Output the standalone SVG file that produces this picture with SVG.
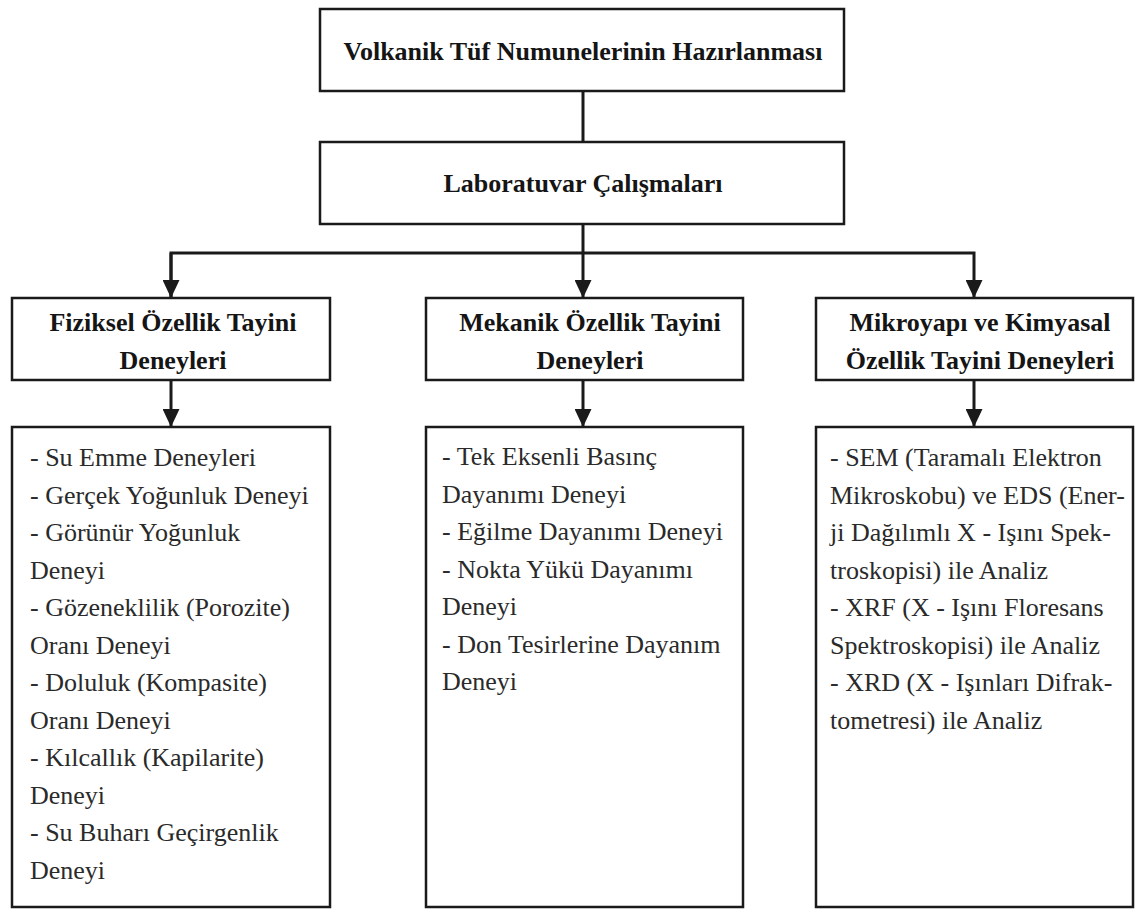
<svg xmlns="http://www.w3.org/2000/svg" width="1136" height="913" viewBox="0 0 1136 913">
  <style>
    .box { fill: #ffffff; stroke: #1a1a1a; stroke-width: 2.5; }
    .title { font-family: "Liberation Serif", "Times New Roman", serif; font-weight: bold; font-size: 26px; fill: #151515; text-anchor: middle; }
    .body { font-family: "Liberation Serif", "Times New Roman", serif; font-size: 26px; fill: #2a2a2a; }
    .conn { fill: none; stroke: #1a1a1a; stroke-width: 3; stroke-linecap: butt; stroke-linejoin: miter; }
  </style>
  <defs>
    <marker id="arrow" markerUnits="userSpaceOnUse" markerWidth="18" markerHeight="17" refX="18" refY="8.5" orient="auto">
      <path d="M0,0 L18,8.5 L0,17 Z" fill="#1a1a1a"/>
    </marker>
  </defs>
  <rect width="1136" height="913" fill="#ffffff"/>

  <g id="connectors">
    <path class="conn" d="M583,91 L583,142"/>
    <path class="conn" d="M583,224 L583,253"/>
    <path class="conn" d="M171,298 L171,253 L974,253 L974,298" marker-end="url(#arrow)"/>
    <path class="conn" d="M171,253 L171,298" marker-end="url(#arrow)"/>
    <path class="conn" d="M583,253 L583,298" marker-end="url(#arrow)"/>
    <path class="conn" d="M171,380 L171,427" marker-end="url(#arrow)"/>
    <path class="conn" d="M583,380 L583,427" marker-end="url(#arrow)"/>
    <path class="conn" d="M974,380 L974,427" marker-end="url(#arrow)"/>
  </g>

  <g id="node-prep">
    <rect class="box" x="320" y="9" width="524" height="82"/>
    <text class="title" x="583" y="60">Volkanik Tüf Numunelerinin Hazırlanması</text>
  </g>

  <g id="node-lab">
    <rect class="box" x="320" y="142" width="524" height="82"/>
    <text class="title" x="583" y="192">Laboratuvar Çalışmaları</text>
  </g>

  <g id="node-physical-head">
    <rect class="box" x="12" y="298" width="318" height="82"/>
    <text class="title" x="173" y="331">Fiziksel Özellik Tayini</text>
    <text class="title" x="173" y="369">Deneyleri</text>
  </g>

  <g id="node-mechanical-head">
    <rect class="box" x="426" y="298" width="317" height="82"/>
    <text class="title" x="590" y="331">Mekanik Özellik Tayini</text>
    <text class="title" x="590" y="369">Deneyleri</text>
  </g>

  <g id="node-micro-head">
    <rect class="box" x="816" y="298" width="317" height="82"/>
    <text class="title" x="980" y="331">Mikroyapı ve Kimyasal</text>
    <text class="title" x="980" y="369">Özellik Tayini Deneyleri</text>
  </g>

  <g id="node-physical-list">
    <rect class="box" x="12" y="427" width="318" height="480"/>
    <text class="body" x="30" y="466">- Su Emme Deneyleri</text>
    <text class="body" x="30" y="503.5">- Gerçek Yoğunluk Deneyi</text>
    <text class="body" x="30" y="541">- Görünür Yoğunluk</text>
    <text class="body" x="30" y="578.5">Deneyi</text>
    <text class="body" x="30" y="616">- Gözeneklilik (Porozite)</text>
    <text class="body" x="30" y="653.5">Oranı Deneyi</text>
    <text class="body" x="30" y="691">- Doluluk (Kompasite)</text>
    <text class="body" x="30" y="728.5">Oranı Deneyi</text>
    <text class="body" x="30" y="766">- Kılcallık (Kapilarite)</text>
    <text class="body" x="30" y="803.5">Deneyi</text>
    <text class="body" x="30" y="841">- Su Buharı Geçirgenlik</text>
    <text class="body" x="30" y="878.5">Deneyi</text>
  </g>

  <g id="node-mechanical-list">
    <rect class="box" x="426" y="427" width="317" height="480"/>
    <text class="body" x="442" y="465">- Tek Eksenli Basınç</text>
    <text class="body" x="442" y="502.5">Dayanımı Deneyi</text>
    <text class="body" x="442" y="540">- Eğilme Dayanımı Deneyi</text>
    <text class="body" x="442" y="577.5">- Nokta Yükü Dayanımı</text>
    <text class="body" x="442" y="615">Deneyi</text>
    <text class="body" x="442" y="652.5">- Don Tesirlerine Dayanım</text>
    <text class="body" x="442" y="690">Deneyi</text>
  </g>

  <g id="node-micro-list">
    <rect class="box" x="816" y="427" width="317" height="480"/>
    <text class="body" x="830" y="466">- SEM (Taramalı Elektron</text>
    <text class="body" x="830" y="503.5">Mikroskobu) ve EDS (Ener-</text>
    <text class="body" x="830" y="541">ji Dağılımlı X - Işını Spek-</text>
    <text class="body" x="830" y="578.5">troskopisi) ile Analiz</text>
    <text class="body" x="830" y="616">- XRF (X - Işını Floresans</text>
    <text class="body" x="830" y="653.5">Spektroskopisi) ile Analiz</text>
    <text class="body" x="830" y="691">- XRD (X - Işınları Difrak-</text>
    <text class="body" x="830" y="728.5">tometresi) ile Analiz</text>
  </g>
</svg>
